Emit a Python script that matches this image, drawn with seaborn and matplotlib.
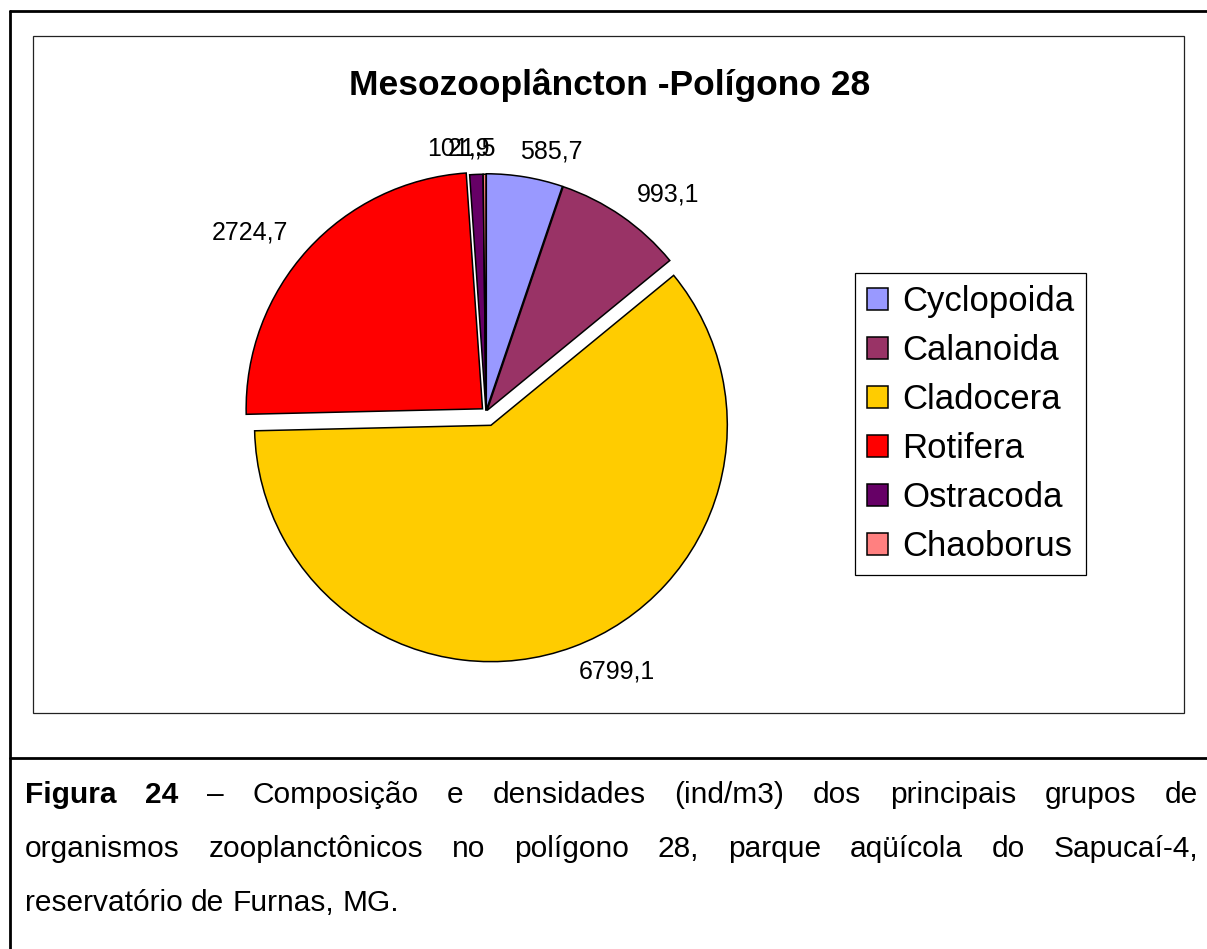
import numpy as np
import seaborn as sns
import matplotlib.pyplot as plt
from matplotlib.lines import Line2D
from matplotlib.patches import Rectangle

groups = ['Cyclopoida', 'Calanoida', 'Cladocera', 'Rotifera', 'Ostracoda', 'Chaoborus']
density = [585.7, 993.1, 6799.1, 2724.7, 101.9, 21.5]
value_labels = ['585,7', '993,1', '6799,1', '2724,7', '101,9', '21,5']
colors = ['#9999FF', '#993366', '#FFCC00', '#FF0000', '#660066', '#FF8080']
explode = [0.008, 0.008, 0.06, 0.02, 0.006, 0.006]

title = 'Mesozooplâncton -Polígono 28'
caption_lines = [
    [('Figura', 'bold'), ('24', 'bold'), ('–', 'normal'), ('Composição', 'normal'), ('e', 'normal'),
     ('densidades', 'normal'), ('(ind/m3)', 'normal'), ('dos', 'normal'), ('principais', 'normal'),
     ('grupos', 'normal'), ('de', 'normal')],
    [(w, 'normal') for w in 'organismos zooplanctônicos no polígono 28, parque aqüícola do Sapucaí-4,'.split()],
    [(w, 'normal') for w in 'reservatório de Furnas, MG.'.split()],
]

sns.set_theme(style='white')
plt.rcParams['font.family'] = ['Liberation Sans', 'DejaVu Sans']
plt.rcParams['text.color'] = 'black'

W, H = 1207, 949
fig = plt.figure(figsize=(W / 100, H / 100), dpi=100)
renderer = fig.canvas.get_renderer()


def fx(x):
    return x / W


def fy(y):
    return 1 - y / H


# frames
lw_thick = 2.0
fig.add_artist(Line2D([fx(10), 1], [fy(11), fy(11)], color='black', lw=lw_thick, transform=fig.transFigure))
fig.add_artist(Line2D([fx(10), fx(10)], [fy(11), 0], color='black', lw=lw_thick, transform=fig.transFigure))
fig.add_artist(Line2D([fx(10), 1], [fy(758), fy(758)], color='black', lw=lw_thick, transform=fig.transFigure))
fig.add_artist(Rectangle((fx(33), fy(713)), fx(1184) - fx(33), fy(36) - fy(713), fill=False,
                         edgecolor='#222222', lw=0.9, transform=fig.transFigure))

# pie
cx, cy, box = 486, 412, 520
ax = fig.add_axes([fx(cx - box / 2), fy(cy + box / 2), box / W, box / H])
wedges, _ = ax.pie(density, colors=sns.color_palette(colors),
                   startangle=90, counterclock=False, explode=explode,
                   wedgeprops=dict(edgecolor='black', linewidth=1.1))
ax.set_xlim(-1.1, 1.1)
ax.set_ylim(-1.1, 1.1)
ax.set_aspect('equal')
ax.axis('off')

px_to_data = 2.2 / box
for w, lab, ex in zip(wedges, value_labels, explode):
    ang = np.deg2rad((w.theta1 + w.theta2) / 2)
    r = 1.11 + ex
    c, s = np.cos(ang), np.sin(ang)
    t = ax.text(r * c, r * s, lab, fontsize=18, color='black', ha='center', va='center')
    tw = t.get_window_extent(renderer).width * px_to_data
    f = min(0.5, 0.25 + 0.6 * abs(c))
    t.set_x(r * c + np.sign(c) * f * tw)

fig.text(fx(610), fy(85), title, ha='center', va='center', fontsize=25.5, fontweight='bold')

leg = fig.legend(wedges, groups, loc='upper left', bbox_to_anchor=(fx(855), fy(273)),
                 bbox_transform=fig.transFigure, borderaxespad=0, fontsize=25,
                 frameon=True, fancybox=False, edgecolor='black', framealpha=1,
                 handlelength=0.6, handleheight=0.6, handletextpad=0.4,
                 labelspacing=0.46, borderpad=0.35)
leg.get_frame().set_linewidth(0.9)

# justified caption
x_left, x_right = 25, 1198
baselines = [803, 857, 911]
cap_size = 21.5
for i, (line, yb) in enumerate(zip(caption_lines, baselines)):
    items = []
    for word, weight in line:
        t = fig.text(0, fy(yb), word, fontsize=cap_size, fontweight=weight, va='baseline', ha='left')
        wpx = t.get_window_extent(renderer).width
        items.append((t, wpx))
    total = sum(w for _, w in items)
    if i < len(caption_lines) - 1:
        gap = (x_right - x_left - total) / (len(items) - 1)
    else:
        gap = cap_size * 100 / 72 * 0.278
    x = x_left
    for t, wpx in items:
        t.set_x(fx(x))
        x += wpx + gap

fig.savefig('out.png', dpi=100)
